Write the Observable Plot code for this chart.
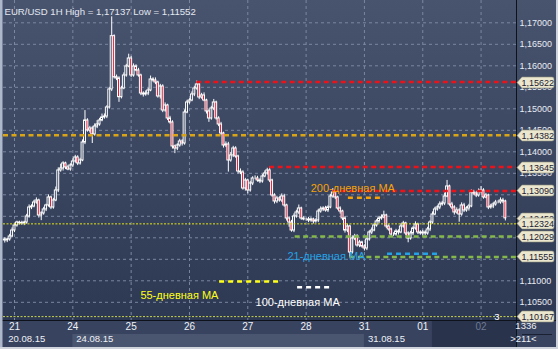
<!DOCTYPE html>
<html><head><meta charset="utf-8">
<script src="https://cdn.jsdelivr.net/npm/d3@7"></script>
<script src="https://cdn.jsdelivr.net/npm/@observablehq/plot@0.6"></script>
<style>
html,body{margin:0;padding:0;background:#cfd3db;}
#chart{width:558px;height:349px;overflow:hidden;}
svg{display:block;}
</style></head><body><div id="chart"></div>
<script>
// ---- data (EUR/USD 1H, hourly candles) ----
const firstOpen = 1.11960;
const closes = [
1.11938,1.11961,1.12031,1.12170,1.12287,1.12356,1.12345,1.12333,1.12356,1.12496,
1.12705,1.12728,1.12821,1.12868,1.12519,1.12566,1.12659,1.12752,1.12938,1.12705,
1.12868,1.13101,1.13566,1.13612,1.13729,1.13636,1.13589,1.13682,1.13775,1.13868,
1.13729,1.13799,1.14217,1.14728,1.14496,1.14542,1.14403,1.14589,1.14635,1.14728,
1.14798,1.14821,1.15031,1.15450,1.16689,1.15735,1.15705,1.15270,1.15473,1.15775,
1.15984,1.16170,1.15775,1.15984,1.15891,1.15775,1.15356,1.15333,1.15356,1.15426,
1.15682,1.15659,1.15612,1.15287,1.15519,1.14961,1.15077,1.14775,1.14682,1.14124,
1.14077,1.14147,1.14240,1.14194,1.14914,1.15147,1.15193,1.15333,1.15473,1.15566,
1.15263,1.15310,1.15193,1.14938,1.14775,1.15008,1.15147,1.14775,1.14635,1.14426,
1.14147,1.14170,1.13798,1.13915,1.14077,1.13891,1.13542,1.13519,1.13147,1.13333,
1.13101,1.13263,1.13380,1.13380,1.13333,1.13310,1.13426,1.13496,1.13566,1.13333,
1.12984,1.12845,1.12915,1.12868,1.12961,1.12752,1.12449,1.12356,1.12170,1.12496,
1.12589,1.12682,1.12449,1.12426,1.12426,1.12403,1.12426,1.12380,1.12403,1.12612,
1.12659,1.12682,1.12636,1.12705,1.12961,1.13054,1.12938,1.12682,1.12612,1.12449,
1.12170,1.12263,1.11658,1.11984,1.12031,1.11821,1.11891,1.11798,1.11752,1.11961,
1.12124,1.12170,1.12287,1.12380,1.12449,1.12473,1.12519,1.12263,1.12194,1.12077,
1.12077,1.12147,1.12124,1.12263,1.12333,1.12101,1.11984,1.12101,1.12217,1.12310,
1.12124,1.12101,1.12124,1.12101,1.12194,1.12356,1.12542,1.12659,1.12705,1.12775,
1.12798,1.12961,1.13194,1.12775,1.12705,1.12589,1.12636,1.12542,1.12752,1.12636,
1.12682,1.12729,1.13054,1.13031,1.12984,1.13077,1.13101,1.12938,1.12984,1.12705,
1.12729,1.12775,1.12821,1.12821,1.12868,1.12845,1.12452];
// upper / lower shadow length above / below body, in pips
const wickUp = [
4,3,5,6,4,3,3,4,3,5, 6,4,5,6,3,4,5,3,6,3, 5,8,6,10,4,3,5,4,6,5, 4,5,6,23,4,5,4,6,9,5,
8,6,4,5,45,3,5,4,5,6, 5,10,5,6,4,5,3,4,6,5, 8,4,6,3,5,4,6,3,5,4, 3,4,5,4,6,5,4,6,5,8,
4,5,6,3,4,5,7,3,4,5, 3,6,5,7,5,4,3,6,4,5, 3,5,4,6,5,4,5,6,5,8, 3,4,5,4,6,5,3,4,5,6,
5,8,3,4,3,5,4,3,4,5, 6,4,5,4,5,9,4,3,4,3, 4,5,3,6,5,4,5,3,4,5, 4,6,5,4,5,6,10,3,4,3,
4,5,4,6,5,3,4,5,4,6, 3,4,5,4,5,4,6,5,4,6, 5,8,14,3,5,4,6,4,6,5, 4,5,6,5,4,6,9,4,5,3,
5,4,5,4,6,5,3];
const wickDown = [
6,5,4,3,5,4,5,4,5,4, 4,5,3,4,6,12,4,5,4,5, 4,3,5,4,6,5,3,4,5,4, 5,4,3,5,4,6,21,4,5,4,
3,4,5,4,5,4,5,12,4,3, 4,3,5,4,3,4,5,6,4,5, 3,4,5,4,6,5,4,5,4,6, 12,5,4,6,4,3,4,3,5,4,
5,4,3,6,9,4,5,4,5,4, 6,5,27,4,5,4,6,5,4,6, 8,4,5,3,4,5,4,3,4,5, 4,6,5,4,5,4,6,11,4,5,
4,5,4,3,4,5,4,6,4,5, 4,5,4,5,3,4,5,4,6,5, 6,5,11,4,5,4,5,4,6,5, 4,5,3,4,5,4,3,5,4,6,
5,4,6,3,4,5,10,4,5,4, 5,4,6,5,4,5,4,3,4,5, 4,5,3,4,5,6,4,18,4,5, 4,6,3,4,5,4,5,4,3,5,
4,5,4,3,4,5,6];

const dayLabels = ["21","24","25","26","27","28","31","01","02"];
const dayStarts = [4,28,52,76,100,124,148,172,196];
const dateLabels = ["20.08.15","24.08.15","31.08.15"];
const dateStarts = [0,28,148];
const gridTicks = [1.105,1.110,1.115,1.120,1.125,1.130,1.135,1.140,1.145,1.150,1.155,1.160,1.165,1.170];
// price labels still visible on the axis (others are covered by level tags)
const priceLabels = [1.105,1.110,1.125,1.135,1.140,1.145,1.150,1.155,1.160,1.165,1.170];

const redLevels = [1.15622, 1.13645, 1.13090];
const redFrom = [79, 109, 135];
const goldLevel = 1.14382;
const greenLevels = [1.12029, 1.11555];
const greenFrom = [119.5, 142];
const dottedLevels = [1.12324, 1.10167];
const tagValues = [1.15622, 1.14382, 1.13645, 1.13090, 1.12452, 1.12324, 1.12029, 1.11555, 1.10167];

const maNames = ["200-дневная MA","21-дневная MA","55-дневная MA","100-дневная MA"];
const maLevels = [1.12931, 1.11628, 1.10984, 1.10852];
const maFrom = [141.4, 157.5, 88.4, 120.5];
const maTo = [156.3, 178.5, 113.0, 135.3];
const maLabelAt = [125.9, 116.3, 55.8, 103.2];
const maLabelLevel = [1.13150, 1.11573, 1.10658, 1.10496];
const maColors = ["#f5a20a","#23a3e6","#ffff1a","#ffffff"];

const titleText = "EUR/USD 1H High = 1,17137 Low = 1,11552";
const barCount = "1336";
const barShown = ">211<";

// ---- build tables ----
const candles = closes.map((c, i) => {
  const o = i ? closes[i - 1] : firstOpen;
  return {i, o, c, h: Math.max(o, c) + wickUp[i] * 1e-4, l: Math.min(o, c) - wickDown[i] * 1e-4};
});
const xDomain = [-0.53, 210.58];
const yDomain = [1.100767, 1.175186];
const fmt = v => v.toFixed(5).replace(".", ",");
const FONT = "'Liberation Sans', Arial, sans-serif";

function backdrop(index, scales, values, dims) {
  const {width, height, marginRight, marginBottom} = dims;
  const bottom = height - marginBottom, right = width - marginRight;
  const g = d3.create("svg:g");
  const gr = g.append("defs").append("linearGradient").attr("id", "bgGrad")
    .attr("x1", 0).attr("y1", 0).attr("x2", 0).attr("y2", 1);
  gr.append("stop").attr("offset", "0%").attr("stop-color", "#48536e");
  gr.append("stop").attr("offset", "100%").attr("stop-color", "#2d3853");
  g.append("rect").attr("x", 0).attr("y", 0).attr("width", width).attr("height", bottom).attr("fill", "url(#bgGrad)");
  // x-axis band
  g.append("rect").attr("x", 0).attr("y", bottom).attr("width", width).attr("height", 27).attr("fill", "#38435f");
  const xa = scales.x(dateStarts[1]), xb = scales.x(dateStarts[2]);
  g.append("rect").attr("x", xa).attr("y", bottom + 14).attr("width", xb - xa).attr("height", 13).attr("fill", "#4a5570");
  const xd = scales.x(176);
  g.append("rect").attr("x", xd).attr("y", bottom + 1).attr("width", right - xd).attr("height", 26).attr("fill", "#29334b");
  g.append("rect").attr("x", right).attr("y", bottom).attr("width", marginRight).attr("height", 27).attr("fill", "#394460");
  g.append("line").attr("x1", right + 6).attr("x2", width - 6).attr("y1", bottom + 14.5).attr("y2", bottom + 14.5).attr("stroke", "#1a2132");
  // borders
  g.append("line").attr("x1", 0).attr("x2", width).attr("y1", bottom + 0.5).attr("y2", bottom + 0.5).attr("stroke", "#0e121b");
  g.append("line").attr("x1", right + 0.5).attr("x2", right + 0.5).attr("y1", 0).attr("y2", bottom + 27).attr("stroke", "#0e121b");
  g.append("rect").attr("x", 0).attr("y", 0).attr("width", 2.5).attr("height", height).attr("fill", "#aeb8cb");
  g.append("rect").attr("x", 0).attr("y", bottom + 27).attr("width", width).attr("height", 3).attr("fill", "#cfd3db");
  g.append("rect").attr("x", width - 2).attr("y", 0).attr("width", 2).attr("height", height).attr("fill", "#cfd3db");
  return g.node();
}

function tags(index, scales, values, dims) {
  const x0 = dims.width - dims.marginRight + 1;
  const g = d3.create("svg:g").attr("text-anchor", "start");
  for (const v of tagValues) {
    const y = Math.round(scales.y(v)) + 0.5;
    g.append("path")
      .attr("d", `M${x0},${y} L${x0 + 5},${y - 5.5} L${x0 + 35},${y - 5.5} Q${x0 + 37},${y - 5.5} ${x0 + 37},${y - 3.5} L${x0 + 37},${y + 3.5} Q${x0 + 37},${y + 5.5} ${x0 + 35},${y + 5.5} L${x0 + 5},${y + 5.5} Z`)
      .attr("fill", "#ebe7cf").attr("stroke", "#8f8d7c").attr("stroke-width", 0.6);
    g.append("text").attr("x", x0 + 4.5).attr("y", y + 3.3).attr("text-anchor", "start")
      .attr("font-family", FONT).attr("font-size", 9).attr("fill", "#1c2233").text(fmt(v));
  }
  return g.node();
}

const lineData = [
  ...redLevels.map((v, k) => ({v, from: redFrom[k], color: "#e8141c"})),
  {v: goldLevel, from: xDomain[0], color: "#d9a516"},
  ...greenLevels.map((v, k) => ({v, from: greenFrom[k], color: "#84b84a"}))
];
const maData = maNames.map((name, k) => ({name, v: maLevels[k], from: maFrom[k], to: maTo[k], at: maLabelAt[k], lv: maLabelLevel[k], color: maColors[k]}));

const chart = Plot.plot({
  width: 558, height: 349,
  marginTop: 0, marginBottom: 29, marginLeft: 3, marginRight: 42,
  x: {domain: xDomain, axis: null},
  y: {domain: yDomain, axis: null},
  style: {background: "transparent", fontFamily: FONT, overflow: "visible"},
  marks: [
    backdrop,
    Plot.ruleY(gridTicks, {stroke: "#7b86a0", strokeDasharray: "3,3", strokeWidth: 1}),
    Plot.ruleX(dayStarts, {stroke: "#7b86a0", strokeDasharray: "3,3", strokeWidth: 1}),
    Plot.ruleX(candles, {x: "i", y1: "l", y2: "h", stroke: "white", strokeWidth: 1}),
    Plot.rect(candles, {x1: d => d.i - 0.4, x2: d => d.i + 0.4, y1: "o", y2: "c",
      fill: d => d.c < d.o ? "#e3102b" : "#35415e", stroke: "white", strokeWidth: 1}),
    Plot.ruleY(lineData, {y: "v", x1: "from", x2: xDomain[1], stroke: "color", strokeWidth: 2.5, strokeDasharray: "5,3.5"}),
    Plot.ruleY(dottedLevels, {stroke: (d, k) => k ? "#c9d64f" : "#e6e61a", strokeWidth: 1, strokeDasharray: "2,1.5"}),
    Plot.ruleY(maData, {y: "v", x1: "from", x2: "to", stroke: "color", strokeWidth: 2.5, strokeDasharray: "5,4"}),
    Plot.text(maData, {x: "at", y: "lv", text: "name", fill: "color", fontSize: 11, textAnchor: "start"}),
    Plot.text([titleText], {frameAnchor: "top-left", dx: 1, dy: 8, text: d => d, fill: "#e3e8f0", fontSize: 9.6, textAnchor: "start"}),
    Plot.text(["3"], {x: 202.5, y: dottedLevels[1], text: d => d, fill: "#ffffff", fontSize: 9.5}),
    Plot.axisY(priceLabels, {anchor: "right", tickSize: 0, tickPadding: 3, tickFormat: fmt, fill: "#e8ecf3", fontSize: 9}),
    tags,
    Plot.text(dayLabels, {x: (d, k) => dayStarts[k], frameAnchor: "bottom", dy: 9, text: d => d,
      fill: (d, k) => k === dayLabels.length - 1 ? "#6e7a95" : "#eef1f6", fontSize: 10}),
    Plot.text(dateLabels, {x: (d, k) => dateStarts[k], frameAnchor: "bottom", dx: 3.5, dy: 21, text: d => d,
      fill: "#eef1f6", fontSize: 9.5, textAnchor: "start"}),
    Plot.text([barCount], {frameAnchor: "bottom-right", dx: 20, dy: 8, text: d => d, fill: "#eef1f6", fontSize: 9.5}),
    Plot.text([barShown], {frameAnchor: "bottom-right", dx: 20, dy: 21, text: d => d, fill: "#eef1f6", fontSize: 9.5})
  ]
});
document.getElementById("chart").appendChild(chart);
</script></body></html>
